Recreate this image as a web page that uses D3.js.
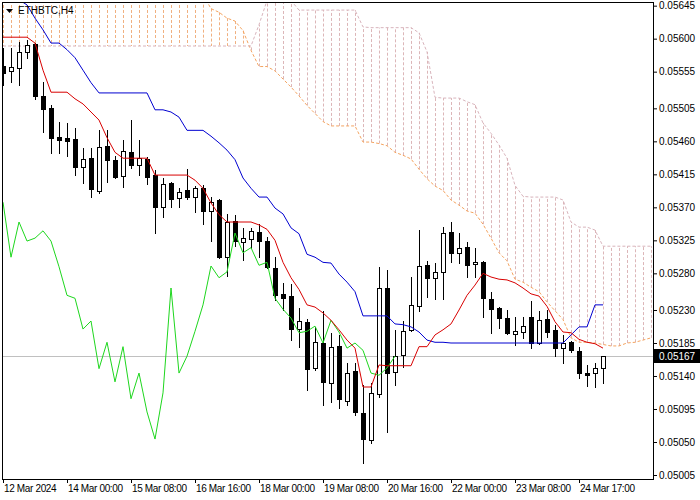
<!DOCTYPE html>
<html><head><meta charset="utf-8">
<script src="https://cdn.jsdelivr.net/npm/d3@7"></script>
<style>body{margin:0;background:#fff}svg{display:block}</style>
</head><body><svg id="c" width="700" height="500"></svg>
<script>
const symbolLabel = "ETHBTC,H4";
const open = [0.05563,0.05556,0.05560,0.05582,0.05593,0.05522,0.05505,0.05466,0.05465,0.05463,
0.05425,0.05437,0.05392,0.05454,0.05435,0.05413,0.05445,0.05428,0.05436,0.05414,
0.05370,0.05403,0.05383,0.05394,0.05384,0.05396,0.05365,0.05380,0.05302,0.05351,
0.05323,0.05327,0.05336,0.05324,0.05287,0.05252,0.05249,0.05204,0.05214,0.05151,
0.05185,0.05130,0.05181,0.05106,0.05147,0.05090,0.05053,0.05115,0.05260,0.05145,
0.05169,0.05203,0.05235,0.05291,0.05274,0.05282,0.05336,0.05308,0.05316,0.05293,
0.05295,0.05245,0.05233,0.05219,0.05197,0.05200,0.05220,0.05185,0.05218,0.05203,
0.05178,0.05186,0.05174,0.05144,0.05144,0.05151];
const high = [0.05587,0.05587,0.05595,0.05598,0.05594,0.05541,0.05510,0.05486,0.05485,0.05478,
0.05451,0.05451,0.05475,0.05475,0.05440,0.05462,0.05489,0.05462,0.05439,0.05421,
0.05410,0.05405,0.05396,0.05422,0.05399,0.05400,0.05384,0.05381,0.05361,0.05360,
0.05342,0.05342,0.05347,0.05330,0.05302,0.05267,0.05265,0.05233,0.05218,0.05207,
0.05229,0.05199,0.05196,0.05158,0.05158,0.05128,0.05130,0.05289,0.05285,0.05203,
0.05215,0.05275,0.05339,0.05297,0.05294,0.05343,0.05350,0.05335,0.05323,0.05315,
0.05297,0.05255,0.05234,0.05230,0.05220,0.05220,0.05242,0.05229,0.05230,0.05210,
0.05196,0.05188,0.05180,0.05155,0.05158,0.05167];
const low = [0.05537,0.05541,0.05537,0.05574,0.05518,0.05473,0.05444,0.05444,0.05440,0.05414,
0.05403,0.05384,0.05390,0.05405,0.05410,0.05398,0.05424,0.05414,0.05402,0.05335,
0.05357,0.05370,0.05370,0.05381,0.05364,0.05347,0.05324,0.05301,0.05276,0.05317,
0.05298,0.05315,0.05302,0.05287,0.05244,0.05230,0.05189,0.05180,0.05121,0.05148,
0.05100,0.05105,0.05096,0.05100,0.05087,0.05021,0.05049,0.05111,0.05064,0.05128,
0.05152,0.05201,0.05229,0.05248,0.05245,0.05245,0.05295,0.05294,0.05275,0.05275,
0.05220,0.05199,0.05205,0.05197,0.05182,0.05192,0.05178,0.05184,0.05193,0.05167,
0.05158,0.05173,0.05137,0.05126,0.05125,0.05130];
const close = [0.05553,0.05561,0.05582,0.05591,0.05522,0.05504,0.05465,0.05462,0.05460,0.05425,
0.05436,0.05395,0.05452,0.05435,0.05411,0.05447,0.05428,0.05437,0.05411,0.05370,
0.05402,0.05381,0.05391,0.05384,0.05396,0.05365,0.05377,0.05302,0.05350,0.05324,
0.05328,0.05338,0.05324,0.05289,0.05250,0.05246,0.05204,0.05215,0.05150,0.05186,
0.05132,0.05180,0.05109,0.05144,0.05091,0.05054,0.05117,0.05260,0.05144,0.05167,
0.05201,0.05237,0.05290,0.05274,0.05282,0.05335,0.05308,0.05315,0.05291,0.05295,
0.05246,0.05231,0.05219,0.05199,0.05201,0.05208,0.05185,0.05216,0.05200,0.05178,
0.05185,0.05175,0.05144,0.05141,0.05151,0.05167];
const tenkan = [0.05602,0.05602,0.05602,0.05602,0.05594,0.05557,0.05527,0.05527,0.05527,0.05518,
0.05511,0.05500,0.05489,0.05465,0.05445,0.05437,0.05437,0.05437,0.05437,0.05414,
0.05414,0.05414,0.05414,0.05414,0.05407,0.05396,0.05376,0.05360,0.05350,0.05350,
0.05350,0.05350,0.05346,0.05340,0.05325,0.05295,0.05274,0.05258,0.05237,0.05234,
0.05226,0.05216,0.05203,0.05189,0.05178,0.05125,0.05125,0.05155,0.05154,0.05154,
0.05154,0.05154,0.05180,0.05180,0.05196,0.05203,0.05211,0.05230,0.05250,0.05264,
0.05280,0.05275,0.05272,0.05271,0.05267,0.05260,0.05252,0.05249,0.05235,0.05214,
0.05200,0.05199,0.05190,0.05186,0.05184,0.05178];
const kijun = [0.05680,0.05669,0.05653,0.05646,0.05628,0.05612,0.05594,0.05594,0.05585,0.05574,
0.05557,0.05540,0.05526,0.05526,0.05526,0.05526,0.05526,0.05526,0.05526,0.05503,
0.05503,0.05500,0.05493,0.05475,0.05475,0.05475,0.05467,0.05458,0.05448,0.05435,
0.05410,0.05396,0.05384,0.05384,0.05369,0.05361,0.05342,0.05334,0.05306,0.05302,
0.05295,0.05294,0.05279,0.05268,0.05255,0.05222,0.05222,0.05222,0.05222,0.05211,
0.05210,0.05207,0.05200,0.05189,0.05186,0.05186,0.05185,0.05185,0.05185,0.05185,
0.05185,0.05185,0.05185,0.05185,0.05185,0.05185,0.05185,0.05185,0.05185,0.05185,
0.05185,0.05196,0.05207,0.05207,0.05237,0.05237];
const chikou = [0.05377,0.05302,0.05350,0.05324,0.05328,0.05338,0.05324,0.05289,0.05250,0.05246,
0.05204,0.05215,0.05150,0.05186,0.05132,0.05180,0.05109,0.05144,0.05091,0.05054,
0.05117,0.05260,0.05144,0.05167,0.05201,0.05237,0.05290,0.05274,0.05282,0.05335,
0.05308,0.05315,0.05291,0.05295,0.05246,0.05231,0.05219,0.05199,0.05201,0.05208,
0.05185,0.05216,0.05200,0.05178,0.05185,0.05175,0.05144,0.05141,0.05151,0.05167];
const spanA = [0.05680,0.05680,0.05680,0.05680,0.05680,0.05680,0.05680,0.05680,0.05680,0.05680,
0.05680,0.05680,0.05680,0.05680,0.05680,0.05680,0.05680,0.05680,0.05680,0.05680,
0.05680,0.05680,0.05680,0.05680,0.05680,0.05660,0.05641,0.05636,0.05628,0.05624,
0.05611,0.05584,0.05562,0.05562,0.05556,0.05545,0.05534,0.05522,0.05509,0.05498,
0.05487,0.05481,0.05481,0.05481,0.05481,0.05459,0.05459,0.05457,0.05454,0.05445,
0.05441,0.05436,0.05422,0.05409,0.05399,0.05393,0.05380,0.05373,0.05365,0.05362,
0.05347,0.05328,0.05308,0.05297,0.05272,0.05268,0.05261,0.05255,0.05241,0.05229,
0.05217,0.05192,0.05186,0.05186,0.05185,0.05183,0.05181,0.05181,0.05185,0.05186,
0.05189,0.05192];
const spanB = [0.05590,0.05590,0.05590,0.05590,0.05590,0.05590,0.05590,0.05590,0.05590,0.05590,
0.05590,0.05590,0.05590,0.05590,0.05590,0.05590,0.05590,0.05590,0.05590,0.05590,
0.05590,0.05590,0.05590,0.05590,0.05590,0.05590,0.05590,0.05590,0.05590,0.05590,
0.05590,0.05590,0.05619,0.05652,0.05652,0.05652,0.05652,0.05639,0.05639,0.05639,
0.05639,0.05639,0.05639,0.05639,0.05639,0.05616,0.05615,0.05615,0.05615,0.05615,
0.05615,0.05615,0.05608,0.05582,0.05520,0.05519,0.05519,0.05519,0.05514,0.05510,
0.05485,0.05471,0.05455,0.05437,0.05400,0.05385,0.05384,0.05384,0.05384,0.05384,
0.05380,0.05350,0.05343,0.05343,0.05339,0.05317,0.05317,0.05317,0.05317,0.05317,
0.05317,0.05317];
const timeTickIdx = [0,8,16,24,32,40,48,56,64,72];
const timeTickLabels = ["12 Mar 2024","14 Mar 00:00","15 Mar 08:00","16 Mar 16:00","18 Mar 00:00","19 Mar 08:00","20 Mar 16:00","22 Mar 00:00","23 Mar 08:00","24 Mar 17:00"];
const priceTicks = [0.05645,0.05600,0.05555,0.05505,0.05460,0.05415,0.05370,0.05325,0.05280,0.05230,0.05185,0.05140,0.05095,0.05050,0.05005];
const lastPrice = 0.05167;

const svg = d3.select("#c");
const FONT = "'Liberation Sans', Arial, sans-serif";
const P = {l:2.5, t:2.5, r:653.5, b:479.5};
const x = d3.scaleLinear().domain([0, 81]).range([3, 651]);
const y = d3.scaleLinear().domain([0.05005, 0.05645]).range([475, 475 - 640 / 1.363636]);
const snap = v => Math.round(v) + 0.5;

svg.append("rect").attr("width",700).attr("height",500).attr("fill","#fff");
svg.append("clipPath").attr("id","pc").append("rect")
  .attr("x",P.l).attr("y",P.t).attr("width",P.r-P.l).attr("height",P.b-P.t);
const g = svg.append("g").attr("clip-path","url(#pc)");

// last price line
g.append("line").attr("x1",P.l).attr("x2",P.r)
  .attr("y1",snap(y(lastPrice))).attr("y2",snap(y(lastPrice)))
  .attr("stroke","#c0c0c0").attr("stroke-width",1);

// cloud hatch
const cloudIdx = d3.range(spanA.length);
g.append("g").selectAll("line").data(cloudIdx).join("line")
  .attr("x1", i => snap(x(i))).attr("x2", i => snap(x(i)))
  .attr("y1", i => y(spanA[i])).attr("y2", i => y(spanB[i]))
  .attr("stroke", i => spanA[i] > spanB[i] ? "#f0b080" : "#dcb6b8")
  .attr("stroke-dasharray","3,2").attr("stroke-width",1);

const line = arr => d3.line().x((d,i) => x(i)).y(d => y(d))(arr);
g.append("path").attr("d", line(spanA)).attr("fill","none")
  .attr("stroke","#f4a460").attr("stroke-dasharray","3,2");
g.append("path").attr("d", line(spanB)).attr("fill","none")
  .attr("stroke","#d8b4bc").attr("stroke-dasharray","3,2");

// candles
const cIdx = d3.range(open.length);
const cg = g.append("g");
cg.selectAll("line.w").data(cIdx).join("line").attr("class","w")
  .attr("x1", i => snap(x(i))).attr("x2", i => snap(x(i)))
  .attr("y1", i => Math.round(y(high[i]))).attr("y2", i => Math.round(y(low[i]))+1)
  .attr("stroke","#000").attr("shape-rendering","crispEdges");
cg.selectAll("rect").data(cIdx).join("rect")
  .attr("x", i => Math.round(x(i)) - 2 + 0.5)
  .attr("width", 4)
  .attr("y", i => Math.round(y(Math.max(open[i],close[i]))) + 0.5)
  .attr("height", i => Math.max(1, Math.round(y(Math.min(open[i],close[i]))) - Math.round(y(Math.max(open[i],close[i])))))
  .attr("fill", i => close[i] >= open[i] ? "#fff" : "#000")
  .attr("stroke","#000").attr("shape-rendering","crispEdges");

// indicator lines
g.append("path").attr("d", line(chikou)).attr("fill","none").attr("stroke","#1ed61e");
g.append("path").attr("d", line(kijun)).attr("fill","none").attr("stroke","#0000d0");
g.append("path").attr("d", line(tenkan)).attr("fill","none").attr("stroke","#d80000");

// frame
svg.append("rect").attr("x",P.l).attr("y",P.t).attr("width",P.r-P.l).attr("height",P.b-P.t)
  .attr("fill","none").attr("stroke","#000");

// axes
const ya = svg.append("g").attr("transform",`translate(${P.r-0.5},0)`)
  .call(d3.axisRight(y).tickValues(priceTicks).tickFormat(d3.format(".5f")).tickSize(4).tickPadding(2));
ya.select(".domain").remove();
ya.selectAll("text").attr("font-family",FONT).attr("font-size","10px").attr("fill","#000");
ya.selectAll("line").attr("stroke","#000");

const xa = svg.append("g").attr("transform",`translate(0,${P.b-0.5})`)
  .call(d3.axisBottom(x).tickValues(timeTickIdx).tickFormat((d,k) => timeTickLabels[k]).tickSize(4).tickPadding(1.5));
xa.select(".domain").remove();
xa.selectAll("text").attr("font-family",FONT).attr("font-size","10px").attr("fill","#000")
  .attr("letter-spacing","-0.35px")
  .attr("text-anchor","start").attr("x",0.5);
xa.selectAll("line").attr("stroke","#000");

// last price tag
const ly = y(lastPrice);
svg.append("rect").attr("x",654).attr("y",Math.round(ly)-7).attr("width",46).attr("height",14).attr("fill","#000");
svg.append("text").attr("x",659).attr("y",ly).attr("dy","0.35em").text(d3.format(".5f")(lastPrice))
  .attr("font-family",FONT).attr("font-size","10px").attr("fill","#fff");

// symbol label
svg.append("path").attr("d","M6,9 L13,9 L9.5,13 Z").attr("fill","#000");
svg.append("text").attr("x",18).attr("y",14).text(symbolLabel)
  .attr("font-family",FONT).attr("font-size","10px").attr("fill","#000");
</script></body></html>
